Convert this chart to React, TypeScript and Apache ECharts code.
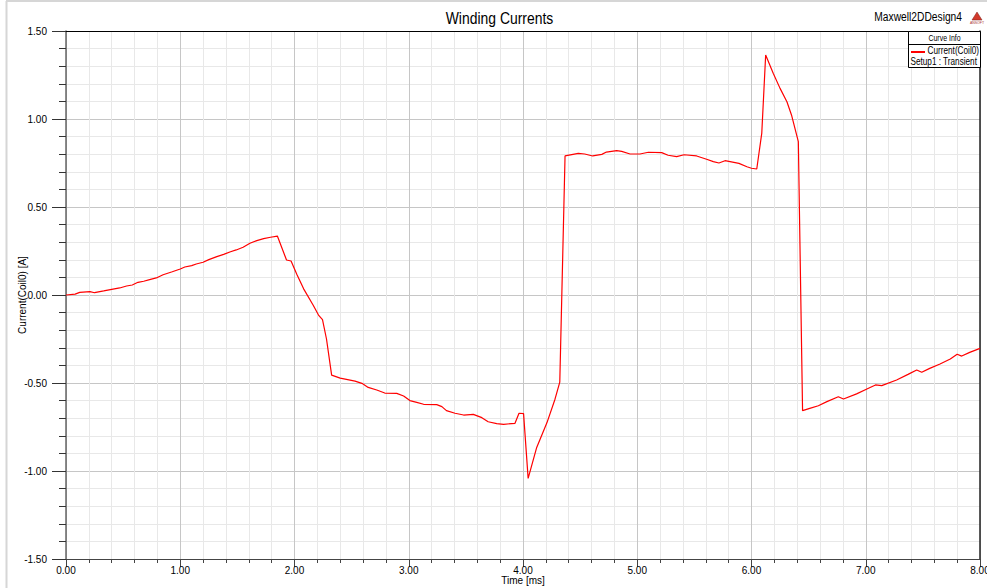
import React, { useEffect, useRef } from "react";
import * as echarts from "echarts";

// Coil current over time, sampled from the transient solution
const timeMs: number[] = [
  0.0, 0.08, 0.12, 0.21, 0.25, 0.33, 0.4, 0.47, 0.53, 0.58, 0.63, 0.68, 0.74, 0.79, 0.85, 0.93,
  1.0, 1.04, 1.1, 1.14, 1.2, 1.25, 1.32, 1.38, 1.44, 1.49, 1.55, 1.61, 1.67, 1.73, 1.79, 1.85,
  1.93, 1.97, 2.02, 2.08, 2.165, 2.21, 2.245, 2.28, 2.325, 2.4, 2.53, 2.59, 2.645, 2.72, 2.79,
  2.895, 2.955, 3.01, 3.07, 3.13, 3.245, 3.29, 3.33, 3.405, 3.48, 3.565, 3.64, 3.695, 3.77, 3.83,
  3.93, 3.965, 4.005, 4.045, 4.12, 4.21, 4.28, 4.322, 4.368, 4.484, 4.54, 4.61, 4.69, 4.73, 4.82,
  4.864, 4.937, 5.024, 5.097, 5.214, 5.27, 5.345, 5.41, 5.52, 5.607, 5.666, 5.715, 5.768, 5.89,
  5.96, 6.0, 6.046, 6.09, 6.124, 6.19, 6.25, 6.31, 6.35, 6.41, 6.447, 6.51, 6.585, 6.66, 6.76,
  6.805, 6.92, 7.01, 7.085, 7.14, 7.27, 7.37, 7.446, 7.49, 7.56, 7.65, 7.74, 7.8, 7.84, 7.91, 8.0,
];

const currentA: number[] = [
  0.0, 0.005, 0.015, 0.019, 0.013, 0.023, 0.032, 0.04, 0.051, 0.057, 0.072, 0.078, 0.089, 0.097, 0.115, 0.132,
  0.148, 0.159, 0.167, 0.176, 0.186, 0.201, 0.218, 0.231, 0.246, 0.256, 0.271, 0.294, 0.309, 0.32, 0.328, 0.335,
  0.199, 0.193, 0.118, 0.035, -0.06, -0.114, -0.14, -0.25, -0.455, -0.472, -0.489, -0.502, -0.525, -0.54, -0.557,
  -0.559, -0.574, -0.6, -0.61, -0.621, -0.623, -0.634, -0.657, -0.672, -0.682, -0.678, -0.697, -0.72, -0.731, -0.735,
  -0.729, -0.672, -0.674, -1.042, -0.866, -0.725, -0.592, -0.495, 0.79, 0.805, 0.801, 0.79, 0.799, 0.812, 0.82,
  0.816, 0.801, 0.801, 0.811, 0.809, 0.794, 0.786, 0.797, 0.79, 0.771, 0.758, 0.75, 0.763, 0.748,
  0.729, 0.72, 0.716, 0.92, 1.364, 1.26, 1.174, 1.098, 1.023, 0.871, -0.657, -0.644, -0.629, -0.606, -0.578,
  -0.591, -0.562, -0.534, -0.511, -0.515, -0.483, -0.451, -0.426, -0.439, -0.417, -0.392, -0.364, -0.337, -0.347, -0.326, -0.303,
];

const xRange = { min: 0, max: 8, step: 1 };
const yRange = { min: -1.5, max: 1.5, step: 0.5 };

const FONT = "'Liberation Sans', Arial, sans-serif";
// horizontal squeeze that gives the narrow face used by the plot's header texts
const NARROW = 0.82;

export default function App() {
  const ref = useRef<HTMLDivElement>(null);

  useEffect(() => {
    if (!ref.current) return;
    const chart = echarts.init(ref.current, undefined, { renderer: "svg" });

    const seriesData = timeMs.map((t, i) => [t, currentA[i]]);

    const majorLine = { show: true, lineStyle: { color: "#c6c6c6", width: 1 } };
    const minorLine = { show: true, lineStyle: { color: "#e8e8e8", width: 1 } };

    const narrowText = (
      x: number,
      y: number,
      text: string,
      size: number,
      align: "left" | "center" | "right",
      z = 11,
    ) => ({
      type: "text",
      z,
      x,
      y,
      scaleX: NARROW,
      style: { text, font: `${size}px ${FONT}`, fill: "#000", align, verticalAlign: "middle" },
    });

    chart.setOption({
      animation: false,
      backgroundColor: "#ffffff",
      textStyle: { fontFamily: FONT },
      grid: { left: 66, right: 7, top: 31, bottom: 29, containLabel: false, outerBoundsMode: "none" },
      xAxis: [
        {
          type: "value",
          min: xRange.min,
          max: xRange.max,
          interval: xRange.step,
          name: "Time [ms]",
          nameLocation: "middle",
          nameGap: 16,
          nameMoveOverlap: false,
          nameTextStyle: { fontFamily: FONT, fontSize: 10, color: "#000", verticalAlign: "top" },
          axisLine: { show: true, onZero: false, lineStyle: { color: "#444", width: 1 } },
          axisTick: { show: true, length: 8, lineStyle: { color: "#444" } },
          minorTick: { show: true, splitNumber: 5, length: 4, lineStyle: { color: "#444" } },
          splitLine: majorLine,
          minorSplitLine: minorLine,
          axisLabel: {
            margin: 6,
            fontFamily: FONT,
            fontSize: 10,
            color: "#000",
            hideOverlap: false,
            formatter: (v: number) => v.toFixed(2),
          },
        },
        {
          type: "value",
          position: "top",
          min: xRange.min,
          max: xRange.max,
          axisLine: { show: true, onZero: false, lineStyle: { color: "#000", width: 1 } },
          axisTick: { show: false },
          axisLabel: { show: false },
          splitLine: { show: false },
        },
      ],
      yAxis: [
        {
          type: "value",
          min: yRange.min,
          max: yRange.max,
          interval: yRange.step,
          name: "Current(Coil0) [A]",
          nameLocation: "middle",
          nameGap: 39,
          nameMoveOverlap: false,
          nameTextStyle: { fontFamily: FONT, fontSize: 10, color: "#000" },
          axisLine: { show: true, onZero: false, lineStyle: { color: "#666", width: 1.5 } },
          axisTick: { show: true, length: 14, lineStyle: { color: "#333" } },
          minorTick: { show: true, splitNumber: 5, length: 7, lineStyle: { color: "#333" } },
          splitLine: majorLine,
          minorSplitLine: minorLine,
          axisLabel: {
            margin: 19,
            fontFamily: FONT,
            fontSize: 10,
            color: "#000",
            formatter: (v: number) => v.toFixed(2),
          },
        },
        {
          type: "value",
          position: "right",
          min: yRange.min,
          max: yRange.max,
          axisLine: { show: true, onZero: false, lineStyle: { color: "#222", width: 1.5 } },
          axisTick: { show: false },
          axisLabel: { show: false },
          splitLine: { show: false },
        },
      ],
      series: [
        {
          name: "Current(Coil0)",
          type: "line",
          xAxisIndex: 0,
          yAxisIndex: 0,
          data: seriesData,
          showSymbol: false,
          symbol: "none",
          lineStyle: { color: "#ff0000", width: 1.2 },
          z: 5,
        },
      ],
      graphic: [
        // page frame
        { type: "line", shape: { x1: 6, y1: 1, x2: 987, y2: 1 }, style: { stroke: "#d6d6d6", lineWidth: 2 }, silent: true },
        { type: "line", shape: { x1: 6.5, y1: 1, x2: 6.5, y2: 588 }, style: { stroke: "#d6d6d6", lineWidth: 2 }, silent: true },
        // plot title
        narrowText(499.5, 18, "Winding Currents", 17, "center"),
        // design name and logo
        narrowText(962, 17, "Maxwell2DDesign4", 12.5, "right"),
        {
          type: "polygon",
          shape: { points: [[977, 12], [972, 20], [982, 20]] },
          style: { fill: "#d33a2c", stroke: "#7a1f18", lineWidth: 0.5 },
        },
        {
          type: "text",
          x: 977,
          y: 22.5,
          style: { text: "ANSOFT", font: `3.5px ${FONT}`, fill: "#a33", align: "center", verticalAlign: "middle" },
        },
        // curve info box
        {
          type: "rect",
          z: 10,
          shape: { x: 908.5, y: 31.5, width: 72, height: 36 },
          style: { fill: "#ffffff", stroke: "#000", lineWidth: 1 },
        },
        { type: "line", z: 11, shape: { x1: 908.5, y1: 44.5, x2: 980.5, y2: 44.5 }, style: { stroke: "#000", lineWidth: 1 } },
        narrowText(944.5, 38.5, "Curve Info", 8.5, "center"),
        { type: "line", z: 11, shape: { x1: 911, y1: 52, x2: 925, y2: 52 }, style: { stroke: "#ff0000", lineWidth: 2 } },
        narrowText(979, 50.5, "Current(Coil0)", 10, "right"),
        narrowText(910.5, 61.5, "Setup1 : Transient", 10, "left"),
      ],
    });

    return () => chart.dispose();
  }, []);

  return (
    <div
      ref={ref}
      style={{ position: "fixed", left: 0, top: 0, width: 987, height: 588, background: "#fff" }}
    />
  );
}
